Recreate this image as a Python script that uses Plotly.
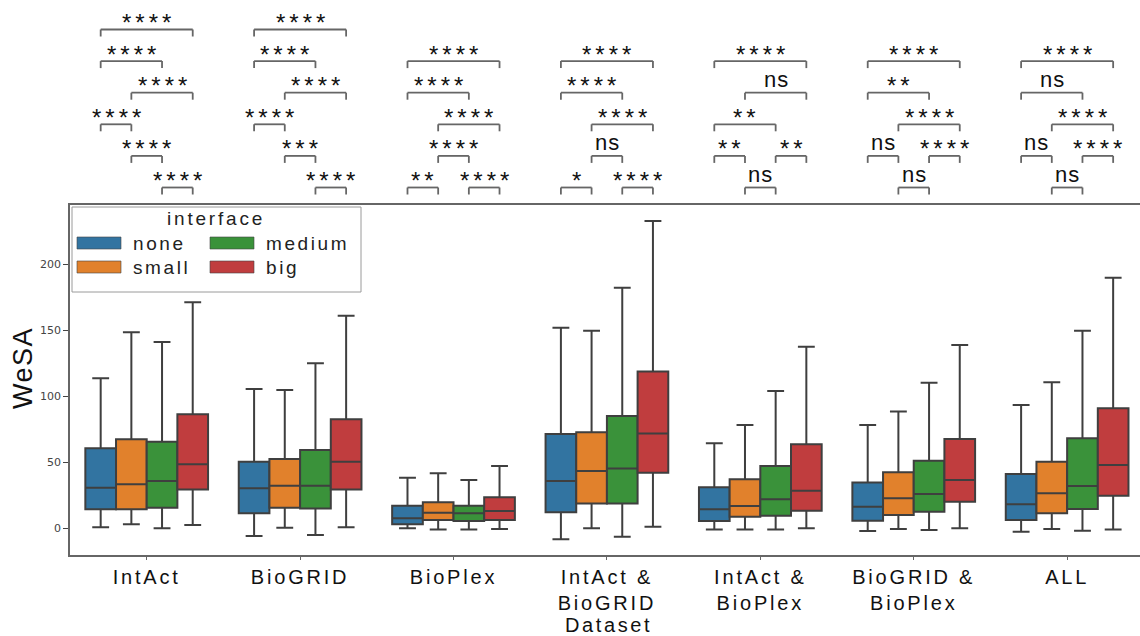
import plotly.graph_objects as go

# ---------------- data ----------------
categories = ["IntAct", "BioGRID", "BioPlex", "IntAct & BioGRID",
              "IntAct & BioPlex", "BioGRID & BioPlex", "ALL"]
tick_lines = [["IntAct"], ["BioGRID"], ["BioPlex"], ["IntAct &", "BioGRID"],
              ["IntAct &", "BioPlex"], ["BioGRID &", "BioPlex"], ["ALL"]]
interfaces = ["none", "small", "medium", "big"]
colors = ["#3274a1", "#e1812c", "#3a923a", "#c03d3e"]

none_low = [0.8, -5.8, 0.0, -8.3, -0.8, -2.0, -2.5]
none_q1 = [14.4, 11.4, 3.0, 12.1, 5.5, 5.8, 6.3]
none_med = [30.8, 30.3, 7.6, 35.8, 14.4, 16.4, 18.2]
none_q3 = [60.6, 50.5, 17.1, 71.4, 31.1, 34.8, 41.1]
none_high = [113.6, 105.5, 38.3, 152.0, 64.4, 78.3, 93.4]

small_low = [3.0, 0.5, -0.8, 0.0, -0.8, -0.5, -0.5]
small_q1 = [14.4, 15.6, 6.3, 18.9, 8.8, 10.1, 11.4]
small_med = [33.3, 32.3, 11.8, 43.4, 16.9, 22.7, 26.5]
small_q3 = [67.4, 52.5, 19.7, 72.7, 37.1, 42.4, 50.5]
small_high = [148.5, 104.8, 41.7, 149.7, 78.3, 88.4, 110.6]

medium_low = [0.0, -5.1, -0.8, -6.3, -0.8, -1.3, -1.8]
medium_q1 = [15.6, 15.1, 5.5, 18.9, 9.6, 12.6, 14.6]
medium_med = [35.8, 32.3, 11.4, 45.4, 22.0, 26.0, 32.0]
medium_q3 = [65.6, 59.3, 17.1, 85.1, 47.2, 51.2, 68.2]
medium_high = [141.1, 125.0, 36.6, 182.3, 104.0, 110.3, 149.7]

big_low = [2.5, 0.8, -0.5, 1.2, 0.0, 0.0, -0.8]
big_q1 = [29.5, 29.5, 6.3, 42.1, 13.4, 20.2, 24.7]
big_med = [48.5, 50.5, 13.1, 71.9, 28.5, 36.6, 48.0]
big_q3 = [86.4, 82.6, 23.5, 118.7, 63.6, 67.7, 90.9]
big_high = [171.2, 161.0, 47.2, 232.8, 137.6, 138.9, 189.8]

y_ticks = [0, 50, 100, 150, 200]

# significance brackets: (row, interface index a, interface index b, label)
sig_intact = [(1, 0, 3, "****"), (2, 0, 2, "****"), (3, 1, 3, "****"),
              (4, 0, 1, "****"), (5, 1, 2, "****"), (6, 2, 3, "****")]
sig_biogrid = [(1, 0, 3, "****"), (2, 0, 2, "****"), (3, 1, 3, "****"),
               (4, 0, 1, "****"), (5, 1, 2, "***"), (6, 2, 3, "****")]
sig_bioplex = [(2, 0, 3, "****"), (3, 0, 2, "****"), (4, 1, 3, "****"),
               (5, 1, 2, "****"), (6, 0, 1, "**"), (6, 2, 3, "****")]
sig_intact_biogrid = [(2, 0, 3, "****"), (3, 0, 2, "****"), (4, 1, 3, "****"),
                      (5, 1, 2, "ns"), (6, 0, 1, "*"), (6, 2, 3, "****")]
sig_intact_bioplex = [(2, 0, 3, "****"), (3, 1, 3, "ns"), (4, 0, 2, "**"),
                      (5, 0, 1, "**"), (5, 2, 3, "**"), (6, 1, 2, "ns")]
sig_biogrid_bioplex = [(2, 0, 3, "****"), (3, 0, 2, "**"), (4, 1, 3, "****"),
                       (5, 0, 1, "ns"), (5, 2, 3, "****"), (6, 1, 2, "ns")]
sig_all = [(2, 0, 3, "****"), (3, 0, 2, "ns"), (4, 1, 3, "****"),
           (5, 0, 1, "ns"), (5, 2, 3, "****"), (6, 1, 2, "ns")]
sig_by_category = [sig_intact, sig_biogrid, sig_bioplex, sig_intact_biogrid,
                   sig_intact_bioplex, sig_biogrid_bioplex, sig_all]

# ---------------- layout helpers ----------------
W, H = 1140, 636
L, T, B = 70, 205, 555
PW, PH = W - L, B - T
FONT = "Liberation Sans, Arial, sans-serif"


def px(X):
    return (X - L) / PW


def py(Y):
    return (B - Y) / PH


def spaced(text, sp):
    return f'<span style="letter-spacing:{sp}px">{text}</span>'


stats = [
    (none_low, none_q1, none_med, none_q3, none_high),
    (small_low, small_q1, small_med, small_q3, small_high),
    (medium_low, medium_q1, medium_med, medium_q3, medium_high),
    (big_low, big_q1, big_med, big_q3, big_high),
]

fig = go.Figure()
for name, col, (lo, q1, med, q3, hi) in zip(interfaces, colors, stats):
    fig.add_trace(go.Box(
        x=categories, lowerfence=lo, q1=q1, median=med, q3=q3, upperfence=hi,
        name=name, fillcolor=col, line=dict(color="#3f3f3f", width=2),
        whiskerwidth=0.55, boxpoints=False, showlegend=False,
    ))

shapes = []
annotations = []

# significance brackets
line_col = "#666666"
row_y0 = 29.5
row_step = 31.6
tick_drop = 7
offsets = [-0.3, -0.1, 0.1, 0.3]
for ci, sig in enumerate(sig_by_category):
    for row, a, b, label in sig:
        yl = row_y0 + row_step * (row - 1)
        xa = ci + offsets[a]
        xb = ci + offsets[b]
        for (x0, y0, x1, y1) in [(xa, yl, xb, yl), (xa, yl, xa, yl + tick_drop),
                                 (xb, yl, xb, yl + tick_drop)]:
            shapes.append(dict(type="line", xref="x", yref="paper",
                               x0=x0, x1=x1, y0=py(y0), y1=py(y1),
                               line=dict(color=line_col, width=1.8)))
        if label == "ns":
            txt = spaced(label, 1)
            size = 22
            yc = yl - 13
            xs = 0.5
        else:
            txt = spaced(label, 4)
            size = 24
            yc = yl - 7
            xs = 2
        annotations.append(dict(
            x=(xa + xb) / 2, y=py(yc), xref="x", yref="paper", text=txt,
            showarrow=False, xanchor="center", yanchor="middle", xshift=xs,
            font=dict(family=FONT, size=size, color="#111111")))

# legend (drawn manually)
shapes.append(dict(type="rect", xref="paper", yref="paper",
                   x0=px(72), x1=px(361), y0=py(292), y1=py(207),
                   line=dict(color="#9a9a9a", width=1), fillcolor="white",
                   layer="above"))
annotations.append(dict(x=px(216), y=py(218), xref="paper", yref="paper",
                        text=spaced("interface", 2.8), showarrow=False,
                        xanchor="center", yanchor="middle",
                        font=dict(family=FONT, size=19, color="#222222")))
leg_pos = [(77, 243), (77, 267), (210, 243), (210, 267)]
for name, col, (lx, ly) in zip(interfaces, colors, leg_pos):
    shapes.append(dict(type="rect", xref="paper", yref="paper",
                       x0=px(lx), x1=px(lx + 44), y0=py(ly + 6), y1=py(ly - 6),
                       line=dict(color="#444444", width=0.6), fillcolor=col,
                       layer="above"))
    annotations.append(dict(x=px(lx + 54), y=py(ly), xref="paper", yref="paper",
                            text=spaced(name, 2.6), showarrow=False,
                            xanchor="left", yanchor="middle",
                            font=dict(family=FONT, size=19, color="#222222")))

# axis titles
annotations.append(dict(x=px(23), y=py(368), xref="paper", yref="paper",
                        text=spaced("WeSA", 1.5), textangle=-90, showarrow=False,
                        xanchor="center", yanchor="middle",
                        font=dict(family=FONT, size=27, color="#111111")))
annotations.append(dict(x=px(608), y=py(625), xref="paper", yref="paper",
                        text=spaced("Dataset", 2.6), showarrow=False,
                        xanchor="center", yanchor="middle",
                        font=dict(family=FONT, size=20, color="#111111")))

tick_text = ["<br>".join(spaced(t, 2.8) for t in lines) for lines in tick_lines]

fig.update_layout(
    width=W, height=H,
    margin=dict(l=L, r=0, t=T, b=H - B, pad=0),
    plot_bgcolor="white", paper_bgcolor="white",
    boxmode="group", boxgap=0.2, boxgroupgap=0,
    shapes=shapes, annotations=annotations,
    xaxis=dict(type="category", categoryorder="array", categoryarray=categories,
               range=[-0.5, 6.475], tickmode="array", tickvals=categories,
               ticktext=tick_text, ticks="outside", ticklen=3, tickwidth=1.2,
               tickcolor="#666666", showline=True, linecolor="#666666",
               linewidth=1.6, mirror=True, showgrid=False, zeroline=False,
               tickfont=dict(family=FONT, size=20, color="#111111")),
    yaxis=dict(range=[-20.2, 244.9], tickmode="array", tickvals=y_ticks,
               ticks="outside", ticklen=5, tickwidth=1.2, tickcolor="#444444",
               showline=True, linecolor="#666666", linewidth=1.6,
               showgrid=False, zeroline=False,
               tickfont=dict(family="DejaVu Sans", size=11, color="#444444")),
)

fig.write_html("out.html")
